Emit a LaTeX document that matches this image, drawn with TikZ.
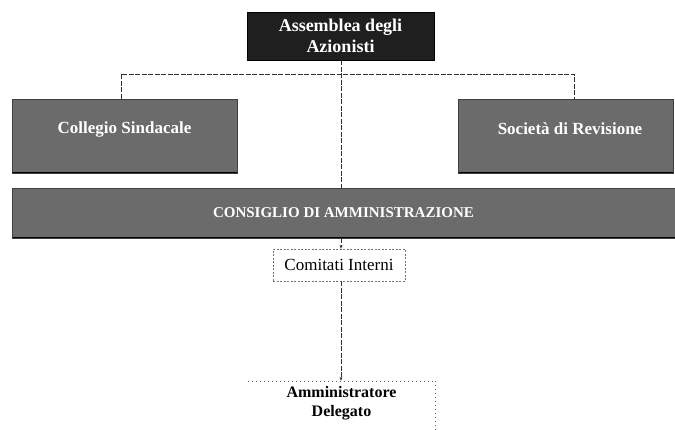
\documentclass[tikz,border=0pt]{standalone}
\usepackage{fontspec}
\setmainfont{Liberation Serif}
\usetikzlibrary{arrows.meta}
\begin{document}
\begin{tikzpicture}[x=1pt,y=-1pt,
  darkbox/.style={fill=black!88, draw=black, text=white, font=\fontsize{18}{21}\selectfont\bfseries,
    align=center, inner sep=0pt},
  greybox/.style={fill=black!58, draw=black!75, line width=0.5pt, text=white,
    font=\fontsize{15}{18}\selectfont\bfseries, align=center, inner sep=0pt,
    path picture={\draw[black, line width=3pt]
      (path picture bounding box.south west) -- (path picture bounding box.south east);}},
  greylabel/.style={font=\fontsize{17}{20}\selectfont\bfseries, text=white, inner sep=0pt},
  plainbox/.style={draw=black!55, dashed, dash pattern=on 2pt off 1.5pt, line width=0.4pt,
    font=\fontsize{17}{20}\selectfont, align=center, inner sep=0pt},
  openbox/.style={font=\fontsize{16}{19}\selectfont\bfseries, align=center, inner sep=0pt},
  link/.style={draw=black!80, line width=0.5pt, dash pattern=on 5pt off 1.5pt},
  arrowlink/.style={link, -{Stealth[length=4pt,width=3pt]}},
  dotline/.style={draw=black!60, line width=0.6pt, dash pattern=on 0.8pt off 3.2pt}
]
\useasboundingbox (0,0) rectangle (675,429);

% governing bodies
\node[darkbox, minimum width=187, minimum height=48] (assemblea) at (340.5,36)
  {Assemblea degli\\Azionisti};
\node[greybox, minimum width=225, minimum height=74] (collegio) at (124.5,136) {};
\node[greylabel] at (124.5,129) {Collegio Sindacale};
\node[greybox, minimum width=215, minimum height=74] (societa) at (565.5,136) {};
\node[greylabel] at (570,129) {Società di Revisione};
\node[greybox, minimum width=663, minimum height=50] (consiglio) at (343.5,213)
  {CONSIGLIO DI AMMINISTRAZIONE};
\node[plainbox, minimum width=132, minimum height=32] (comitati) at (339,265) {Comitati Interni};
\node[openbox, minimum width=187, minimum height=44] (amm) at (341.5,403)
  {Amministratore\\Delegato};

% branch to the control bodies
\coordinate (jl) at (121,74);
\coordinate (jm) at (341,74);
\coordinate (jr) at (574,74);
\draw[link] (collegio.north -| jl) -- (jl) -- (jr) -- (societa.north -| jr);
\draw[link] (assemblea.south -| jm) -- (consiglio.north -| jm);

% board to committees and managing director
\draw[arrowlink] (consiglio.south -| jm) -- (comitati.north -| jm);
\draw[arrowlink] (comitati.south -| jm) -- (amm.north -| jm);

% dotted outline of the managing director box
\draw[dotline] (amm.north west) -- (amm.north east) -- ([yshift=-5pt]amm.south east);
\end{tikzpicture}
\end{document}
